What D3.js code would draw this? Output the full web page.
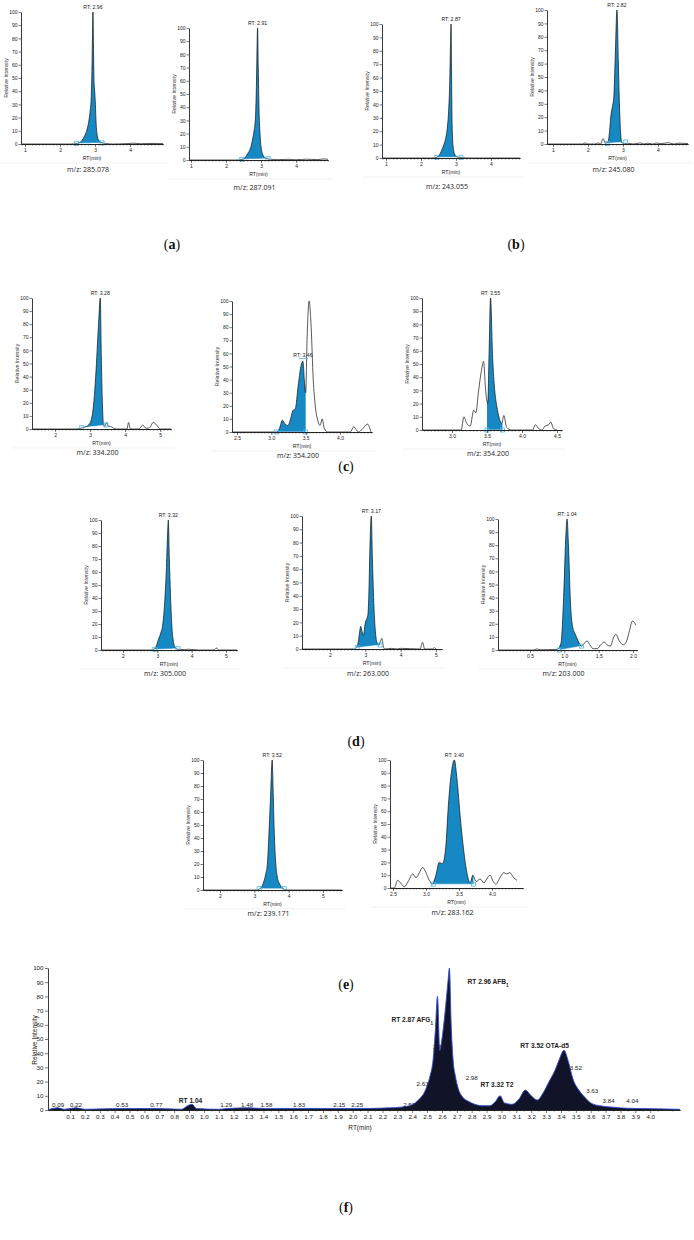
<!DOCTYPE html>
<html><head><meta charset="utf-8">
<script src="https://cdn.jsdelivr.net/npm/d3@7/dist/d3.min.js"></script>
<style>body{margin:0;background:#fff}svg{display:block}</style>
</head><body><svg id="c" width="694" height="1240"></svg>
<script>
// ---------------- DATA ----------------
const mzLabels = ["m/z: 285.078","m/z: 287.091","m/z: 243.055","m/z: 245.080",
  "m/z: 334.200","m/z: 354.200","m/z: 354.200",
  "m/z: 305.000","m/z: 263.000","m/z: 203.000",
  "m/z: 239.171","m/z: 283.162"];
const rtLabels = ["RT: 2.96","RT: 2.91","RT: 2.87","RT: 2.82",
  "RT: 3.28","RT: 3.46","RT: 3.55",
  "RT: 3.32","RT: 3.17","RT: 1.04",
  "RT: 3.52","RT: 3.40"];
const rtLabelAt = [[2.94,100],[2.9,100],[2.86,100],[2.83,100],
  [3.29,100],[3.46,55],[3.55,100],
  [3.32,100],[3.17,100],[1.04,100],
  [3.52,100],[3.43,100]];
const xDomains = [[0.886,4.94],[0.943,4.91],[0.886,4.83],[0.83,4.86],
  [1.34,5.31],[2.427,4.466],[2.571,4.571],
  [1.36,5.32],[1.21,5.17],[0.034,2.058],
  [1.505,5.554],[2.455,4.47]];
const xTicks = [[1,2,3,4],[1,2,3,4],[1,2,3,4],[1,2,3,4],
  [2,3,4,5],[2.5,3.0,3.5,4.0],[3.0,3.5,4.0,4.5],
  [2,3,4,5],[2,3,4,5],[0.5,1.0,1.5,2.0],
  [2,3,4,5],[2.5,3.0,3.5,4.0]];
const yTicks = [0,10,20,30,40,50,60,70,80,90,100];
const fillRanges = [[2.47,3.2],[2.45,3.2],[2.45,3.14],[2.55,3.08],
  [2.76,3.45],[3.07,3.5],[3.5,3.72],
  [2.93,3.6],[2.77,3.42],[0.93,1.25],
  [3.14,3.87],[3.11,3.72]];
const fillBase = [[0.5,0.8],[0.5,1],[0.5,0.5],[0.5,1.5],
  [1,3],[0,0],[0,0],
  [0.5,1],[1,3],[0,3],
  [1,1],[3,3]];

const traceA1 = [[0.89,0],[2.3,0],[2.45,0.3],[2.55,1],[2.62,2.5],[2.7,6],[2.76,10],[2.82,17],[2.86,25],[2.89,35],[2.91,55],[2.925,78],[2.94,100],[2.955,75],[2.97,48],[2.99,40],[3.01,30],[3.03,16],[3.06,7],[3.1,3],[3.18,1],[3.3,0.4],[3.5,0],[3.9,0.3],[4.1,0.6],[4.3,0.2],[4.5,0.4],[4.94,0.3]];
const traceA2 = [[0.95,0],[2.3,0],[2.45,0.4],[2.55,2],[2.62,5],[2.7,9],[2.76,16],[2.8,22],[2.84,32],[2.87,60],[2.9,100],[2.92,70],[2.94,40],[2.97,20],[3.0,10],[3.05,4],[3.12,1.5],[3.25,0.6],[3.5,0.3],[3.8,0.5],[4.0,0.2],[4.3,0.6],[4.6,0.3],[4.8,0.8],[4.91,0.5]];
const traceA3 = [[0.89,0],[2.3,0],[2.45,0.5],[2.52,2],[2.58,5],[2.64,9],[2.7,14],[2.75,22],[2.79,35],[2.82,55],[2.84,80],[2.86,100],[2.875,60],[2.89,25],[2.92,8],[2.96,3],[3.02,1],[3.15,0.3],[3.4,0],[4.83,0]];
const traceA4 = [[0.83,0],[1.85,0],[1.92,0.8],[2.0,0],[2.2,0],[2.3,0.8],[2.36,0],[2.43,4],[2.5,0.5],[2.58,2],[2.62,10],[2.66,22],[2.7,28],[2.74,35],[2.78,65],[2.83,100],[2.87,60],[2.9,30],[2.93,10],[2.97,1],[3.05,0.3],[3.15,0.5],[3.3,0],[3.5,0.8],[3.6,0],[3.7,0.6],[3.85,0],[3.95,0.7],[4.1,0.3],[4.3,1],[4.45,0],[4.6,0.6],[4.86,0.3]];
const traceC1 = [[1.34,0],[2.6,0],[2.72,0.5],[2.85,1.5],[2.95,3],[3.02,6],[3.07,12],[3.12,25],[3.17,45],[3.21,65],[3.25,85],[3.29,100],[3.32,55],[3.35,20],[3.38,4],[3.42,2],[3.47,5],[3.52,2],[3.58,2],[3.65,1],[3.75,0],[4.05,0],[4.1,5],[4.15,0],[4.4,0],[4.5,3],[4.6,0.5],[4.7,1],[4.8,5],[4.9,3],[5.0,0],[5.31,0]];
const traceC2 = [[2.43,0],[3.08,0],[3.12,3],[3.16,9],[3.2,6],[3.24,5],[3.28,10],[3.31,16],[3.35,18],[3.39,35],[3.43,50],[3.46,54],[3.48,40],[3.5,30],[3.52,70],[3.55,100],[3.58,80],[3.61,40],[3.64,20],[3.68,8],[3.71,5],[3.74,10],[3.77,3],[3.82,0],[4.15,0],[4.2,4],[4.27,0],[4.32,2],[4.4,6],[4.45,0]];
const traceC3 = [[2.57,0],[3.13,0],[3.17,10],[3.21,5],[3.26,3],[3.31,15],[3.34,13],[3.38,30],[3.42,45],[3.45,52],[3.48,30],[3.51,20],[3.53,60],[3.55,100],[3.58,55],[3.61,30],[3.64,18],[3.68,8],[3.71,5],[3.74,11],[3.78,2],[3.85,0],[4.15,0],[4.19,4],[4.24,1],[4.28,0],[4.33,3],[4.38,4],[4.41,6],[4.45,1],[4.5,0]];
const traceD1 = [[1.36,0],[2.8,0],[2.9,0.5],[2.97,3],[3.03,8],[3.1,13],[3.16,20],[3.21,35],[3.26,60],[3.3,90],[3.32,100],[3.35,70],[3.38,45],[3.42,20],[3.46,8],[3.52,2],[3.6,0.5],[3.8,0.3],[3.9,0.6],[4.2,0],[4.65,0],[4.72,1.5],[4.8,0],[5.32,0]];
const traceD2 = [[1.21,0],[2.7,0],[2.75,1],[2.8,5],[2.84,13],[2.87,17],[2.91,13],[2.95,10],[2.99,18],[3.03,22],[3.07,25],[3.1,40],[3.13,75],[3.17,100],[3.2,70],[3.24,35],[3.28,15],[3.33,5],[3.38,3],[3.43,6],[3.47,8],[3.51,2],[3.55,0],[3.75,0.5],[3.9,0],[4.0,0.5],[4.55,0],[4.62,5],[4.68,0],[4.9,0],[4.95,1],[5.0,0]];
const traceD3 = [[0.034,0],[0.55,0],[0.6,0.8],[0.65,0.2],[0.9,0.5],[0.95,5],[0.99,40],[1.02,85],[1.04,100],[1.06,80],[1.09,35],[1.12,18],[1.16,12],[1.2,7],[1.25,3],[1.29,5],[1.33,7],[1.37,4],[1.42,1],[1.48,1],[1.53,4],[1.58,6],[1.62,4],[1.67,3],[1.72,10],[1.75,12],[1.8,7],[1.86,4],[1.9,6],[1.95,15],[1.99,22],[2.02,21],[2.04,19]];
const traceE1 = [[1.5,0],[3.05,0],[3.13,0.5],[3.2,2],[3.27,6],[3.33,12],[3.38,20],[3.42,40],[3.47,70],[3.52,100],[3.55,75],[3.58,45],[3.62,22],[3.67,10],[3.73,5],[3.8,2],[3.88,0.5],[3.95,0],[5.55,0]];
const traceE2 = [[2.46,0],[2.52,0],[2.57,6],[2.63,3],[2.67,1],[2.73,5],[2.8,11],[2.85,8],[2.9,12],[2.95,16],[3.0,12],[3.05,6],[3.1,3],[3.15,10],[3.2,20],[3.25,19],[3.3,32],[3.34,65],[3.39,92],[3.43,100],[3.47,85],[3.52,55],[3.57,30],[3.62,12],[3.67,4],[3.71,10],[3.76,5],[3.82,7],[3.88,4],[3.92,7],[3.97,10],[4.02,5],[4.06,3],[4.12,8],[4.18,12],[4.22,11],[4.27,12],[4.33,8],[4.38,6]];
const traces = [traceA1,traceA2,traceA3,traceA4,traceC1,traceC2,traceC3,traceD1,traceD2,traceD3,traceE1,traceE2];

// panel (f)
const fDomain = [-0.048, 4.2];
const fTicks = d3.range(1, 41).map(i => +(i/10).toFixed(1));
const traceF = [[-0.04,0.5],[0.02,1.5],[0.06,0.5],[0.14,1.5],[0.2,0.5],[0.45,1],[0.68,1],[0.85,0.5],[0.89,3],[0.92,4],[0.95,1],[1.1,0.5],[1.15,1],[1.29,1.5],[1.42,1],[1.64,1],[1.91,1],[2.03,1],[2.25,1.5],[2.32,2],[2.38,3],[2.42,5],[2.45,8],[2.48,12],[2.5,17],[2.52,24],[2.54,35],[2.555,55],[2.57,80],[2.585,42],[2.6,50],[2.62,68],[2.64,90],[2.65,100],[2.662,60],[2.675,35],[2.69,24],[2.71,15],[2.74,9],[2.78,6],[2.82,4],[2.87,3],[2.92,3],[2.96,6],[2.99,10],[3.02,5],[3.07,4],[3.12,8],[3.16,14],[3.2,10],[3.24,7],[3.28,12],[3.32,20],[3.36,28],[3.39,36],[3.42,42],[3.45,34],[3.48,22],[3.52,14],[3.56,9],[3.6,5],[3.66,3],[3.75,2],[3.85,1.2],[3.95,1],[4.05,0.8],[4.2,0.5]];
const fAnnots = [
  ["0.09",0.02,2,false],["0.22",0.14,2,false],["0.53",0.45,2,false],["0.77",0.68,2,false],
  ["RT 1.04",0.91,5,true],["1.29",1.15,2,false],["1.48",1.29,2,false],["1.58",1.42,2,false],
  ["1.83",1.64,2,false],["2.15",1.91,2,false],["2.25",2.03,2,false],["2.52",2.38,2,false],
  ["2.63",2.47,17,false],["2.72",2.58,43,false],["RT 2.87 AFG",2.4,62,true],["RT 2.96 AFB",2.91,89,true],
  ["2.98",2.8,21,false],["RT 3.32 T2",2.97,16,true],["RT 3.52 OTA-d5",3.29,44,true],
  ["3.52",3.5,28,false],["3.63",3.61,12,false],["3.84",3.72,5,false],["4.04",3.88,5,false]];

// ---------------- LAYOUT ----------------
const layout = [
  {ax:21, ex:163, y100:12, y0:144, mz:26},
  {ax:189, ex:328, y100:28, y0:160, mz:28},
  {ax:382, ex:520, y100:24, y0:158, mz:29},
  {ax:547, ex:688, y100:10, y0:144, mz:26},
  {ax:32, ex:171, y100:298, y0:429, mz:24},
  {ax:232, ex:372, y100:301, y0:432, mz:24},
  {ax:422, ex:562, y100:298, y0:430, mz:24},
  {ax:101, ex:237, y100:520, y0:650, mz:24},
  {ax:302, ex:442, y100:516, y0:649, mz:25},
  {ax:498, ex:637, y100:519, y0:650, mz:24},
  {ax:203, ex:342, y100:760, y0:890, mz:24},
  {ax:390, ex:523, y100:760, y0:888, mz:25}
];
const panelLabels = [["a",172,249],["b",516,249],["c",346,471],["d",356,746],["e",346,989],["f",346,1212]];

const BLUE = "#1689c4", SQ = "#49b4e6";
const SANS = "'Liberation Sans', Arial, sans-serif";
const svg = d3.select("#c");

function interpAt(tr, t) {
  for (let k = 0; k < tr.length - 1; k++) {
    const a = tr[k], b = tr[k+1];
    if (t >= a[0] && t <= b[0]) return a[1] + (b[1]-a[1]) * (t-a[0]) / (b[0]-a[0]);
  }
  return 0;
}

function drawPanel(i) {
  const L = layout[i];
  const x = d3.scaleLinear().domain(xDomains[i]).range([L.ax, L.ex]);
  const y = d3.scaleLinear().domain([0,100]).range([L.y0, L.y100]);
  const g = svg.append("g");
  const tr = traces[i];
  const [f0, f1] = fillRanges[i];
  const [b0, b1] = fillBase[i];
  const base = t => b0 + (b1-b0)*(t-f0)/(f1-f0);
  const pts = [[f0, interpAt(tr,f0)], ...tr.filter(d => d[0] > f0 && d[0] < f1), [f1, interpAt(tr,f1)]];
  g.append("path").datum(pts)
    .attr("d", d3.area().x(d=>x(d[0])).y0(d=>y(base(d[0]))).y1(d=>y(Math.max(d[1], base(d[0])))).curve(d3.curveMonotoneX))
    .attr("fill", BLUE);
  g.append("path").datum([[f0,b0],[f1,b1]])
    .attr("d", d3.line().x(d=>x(d[0])).y(d=>y(d[1])))
    .attr("stroke", "#dff3fb").attr("stroke-width", 0.6).attr("fill","none");
  g.append("path").datum(tr)
    .attr("d", d3.line().x(d=>x(d[0])).y(d=>y(d[1])).curve(d3.curveMonotoneX))
    .attr("fill","none").attr("stroke","#111").attr("stroke-width",0.7);
  [[f0,b0],[f1,b1]].forEach(p => {
    g.append("rect").attr("x", x(p[0])-2).attr("y", y(p[1])-2).attr("width",4).attr("height",4)
      .attr("fill","none").attr("stroke",SQ).attr("stroke-width",0.8);
  });
  // axes
  g.append("g").attr("transform",`translate(${L.ax},0)`)
    .call(d3.axisLeft(y).tickValues(yTicks).tickSize(2.5).tickSizeOuter(0).tickPadding(1));
  const step = xTicks[i][1] - xTicks[i][0];
  const minor = d3.range(xDomains[i][0], xDomains[i][1], step/10)
    .map(v => Math.ceil(v/(step/10))*(step/10)).filter(v => v <= xDomains[i][1]);
  g.append("g").attr("transform",`translate(0,${L.y0})`)
    .call(d3.axisBottom(x).tickValues(minor).tickSize(1.5).tickFormat("").tickSizeOuter(0));
  const fmt = step < 1 ? d3.format(".1f") : d3.format("d");
  g.append("g").attr("transform",`translate(0,${L.y0})`)
    .call(d3.axisBottom(x).tickValues(xTicks[i]).tickSize(3).tickFormat(fmt).tickSizeOuter(0).tickPadding(1.5));
  g.selectAll(".domain").attr("stroke","#222").attr("stroke-width",0.9);
  g.selectAll(".tick line").attr("stroke","#222").attr("stroke-width",0.6);
  g.selectAll(".tick text").attr("font-family",SANS).attr("font-size",5).attr("fill","#222");
  // labels
  const midx = (L.ax + L.ex)/2;
  g.append("text").attr("x", x(rtLabelAt[i][0])).attr("y", y(rtLabelAt[i][1]) - 3)
    .attr("text-anchor","middle").attr("font-family",SANS).attr("font-size",5.2).attr("fill","#222").text(rtLabels[i]);
  if (rtLabelAt[i][1] < 100) {
    g.append("line").attr("x1", x(rtLabelAt[i][0])-4).attr("x2", x(rtLabelAt[i][0])+5)
      .attr("y1", y(rtLabelAt[i][1])-1.5).attr("y2", y(rtLabelAt[i][1])-1.5)
      .attr("stroke", SQ).attr("stroke-width",0.8);
  }
  g.append("text").attr("transform",`translate(${L.ax-13},${(L.y0+L.y100)/2}) rotate(-90)`)
    .attr("text-anchor","middle").attr("font-family",SANS).attr("font-size",5.2).attr("fill","#333").text("Relative Intensity");
  g.append("text").attr("x", midx).attr("y", L.y0 + 16)
    .attr("text-anchor","middle").attr("font-family",SANS).attr("font-size",5.2).attr("fill","#222").text("RT(min)");
  g.append("line").attr("x1", L.ax - 20).attr("x2", L.ex + 4).attr("y1", L.y0 + 19).attr("y2", L.y0 + 19)
    .attr("stroke","#ececec").attr("stroke-width",0.7);
  g.append("text").attr("x", midx - 4).attr("y", L.y0 + L.mz + 2)
    .attr("text-anchor","middle").attr("font-family","'Open Sans', sans-serif").attr("font-size",7).attr("fill","#222").text(mzLabels[i]);
}
for (let i = 0; i < 12; i++) drawPanel(i);

// ---- panel f ----
(function(){
  const x = d3.scaleLinear().domain(fDomain).range([48, 680]);
  const y = d3.scaleLinear().domain([0,100]).range([1110, 968]);
  const g = svg.append("g");
  g.append("path").datum(traceF)
    .attr("d", d3.area().x(d=>x(d[0])).y0(y(0)).y1(d=>y(d[1])).curve(d3.curveMonotoneX))
    .attr("fill","#111428");
  g.append("path").datum(traceF)
    .attr("d", d3.line().x(d=>x(d[0])).y(d=>y(d[1])).curve(d3.curveMonotoneX))
    .attr("fill","none").attr("stroke","#2c4bd0").attr("stroke-width",0.9);
  g.append("g").attr("transform","translate(48,0)")
    .call(d3.axisLeft(y).tickValues(yTicks).tickSize(3).tickSizeOuter(0).tickPadding(1.5));
  const minor = d3.range(0, 42).map(v => v/10 + 0.05).filter(v => v < fDomain[1]);
  g.append("g").attr("transform","translate(0,1110)")
    .call(d3.axisBottom(x).tickValues(minor).tickSize(1.5).tickFormat("").tickSizeOuter(0));
  g.append("g").attr("transform","translate(0,1110)")
    .call(d3.axisBottom(x).tickValues(fTicks).tickSize(3).tickFormat(d3.format(".1f")).tickSizeOuter(0).tickPadding(1.5));
  g.selectAll(".domain").attr("stroke","#222").attr("stroke-width",0.9);
  g.selectAll(".tick line").attr("stroke","#222").attr("stroke-width",0.6);
  g.selectAll(".tick text").attr("font-family",SANS).attr("font-size",6.2).attr("fill","#222");
  fAnnots.forEach(a => {
    const t = g.append("text").attr("x", x(a[1])).attr("y", y(a[2]))
      .attr("text-anchor","middle").attr("font-family",SANS)
      .attr("font-size", a[3] ? 6.6 : 6.2).attr("font-weight", a[3] ? "bold" : "normal").attr("fill","#222").text(a[0]);
    if (a[0].endsWith("AFG") || a[0].endsWith("AFB")) t.append("tspan").attr("baseline-shift","sub").attr("font-size",4.5).text("1");
  });
  g.append("text").attr("x",360).attr("y",1130).attr("text-anchor","middle").attr("font-family",SANS)
    .attr("font-size",6.5).attr("fill","#222").text("RT(min)");
  g.append("text").attr("transform","translate(37,1040) rotate(-90)").attr("text-anchor","middle")
    .attr("font-family",SANS).attr("font-size",6.5).attr("fill","#222").text("Relative Intensity");
})();

// panel letters
panelLabels.forEach(p => {
  const t = svg.append("text").attr("x", p[1]).attr("y", p[2]).attr("text-anchor","middle")
    .attr("font-family","'Liberation Serif', serif").attr("font-size",14).attr("fill","#111");
  t.append("tspan").text("(");
  t.append("tspan").attr("font-weight","bold").text(p[0]);
  t.append("tspan").text(")");
});
</script></body></html>
